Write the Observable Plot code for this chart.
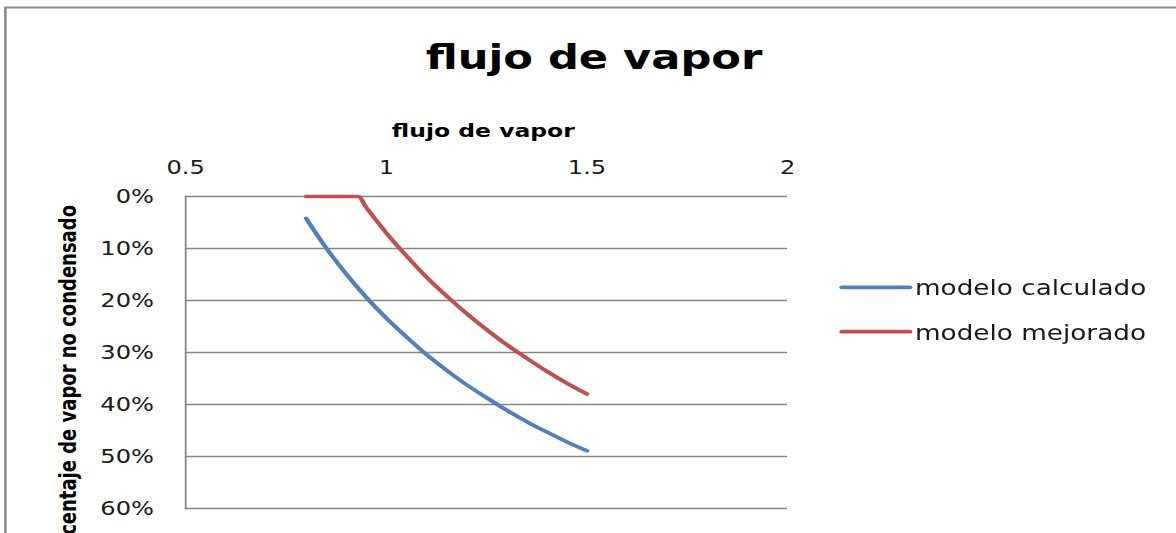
<!DOCTYPE html>
<html>
<head>
<meta charset="utf-8">
<script src="https://cdn.jsdelivr.net/npm/d3@7"></script>
<script src="https://cdn.jsdelivr.net/npm/@observablehq/plot@0.6"></script>
<style>
  html, body { margin: 0; padding: 0; background: #ffffff; overflow: hidden; }
  #wrap { position: relative; width: 926px; height: 533px; transform: scaleX(1.26998); transform-origin: 0 0; }
</style>
</head>
<body>
<div id="wrap"></div>
<script>
// ---- data ----
const chartTitle = "flujo de vapor";
const xAxisTitle = "flujo de vapor";
const yAxisTitle = "porcentaje de vapor no condensado";
const seriesNames = ["modelo calculado", "modelo mejorado"];
const seriesColors = ["#4F81BD", "#C0504D"];

const xTicks = [0.5, 1, 1.5, 2];
const xTickLabels = ["0.5", "1", "1.5", "2"];
const yTicks = [0, 0.1, 0.2, 0.3, 0.4, 0.5, 0.6];
const yTickLabels = ["0%", "10%", "20%", "30%", "40%", "50%", "60%"];

// modelo calculado
const calcX = [0.80, 0.85, 0.90, 0.95, 1.00, 1.05, 1.10, 1.15, 1.20, 1.25, 1.30, 1.35, 1.40, 1.45, 1.50];
const calcY = [0.042, 0.099, 0.149, 0.194, 0.234, 0.270, 0.304, 0.334, 0.362, 0.387, 0.411, 0.433, 0.453, 0.472, 0.489];
// modelo mejorado
const mejX = [0.80, 0.85, 0.90, 0.93, 0.95, 1.00, 1.05, 1.10, 1.15, 1.20, 1.25, 1.30, 1.35, 1.40, 1.45, 1.50];
const mejY = [0.000, 0.000, 0.000, 0.000, 0.021, 0.070, 0.114, 0.155, 0.191, 0.225, 0.256, 0.285, 0.311, 0.336, 0.359, 0.380];

const data = [
  ...calcX.map((x, i) => ({x, y: calcY[i], serie: seriesNames[0]})),
  ...mejX.map((x, i) => ({x, y: mejY[i], serie: seriesNames[1]}))
];

const W = 926, H = 533;
const gridColor = "#868686";
const textColor = "#1a1a1a";

const svg = Plot.plot({
  width: W,
  height: H,
  marginLeft: 145.7,
  marginRight: W - 619.7,
  marginTop: 196,
  marginBottom: 25,
  style: {fontFamily: "DejaVu Sans", fontSize: "19px", color: textColor, background: "transparent", overflow: "visible"},
  x: {domain: [0.5, 2]},
  y: {domain: [0, 0.6], reverse: true},
  color: {domain: seriesNames, range: seriesColors},
  marks: [
    Plot.gridY(yTicks, {stroke: gridColor, strokeOpacity: 1, strokeWidth: 1.4}),
    Plot.frame({anchor: "left", stroke: gridColor, strokeWidth: 1.4}),
    Plot.axisX({anchor: "top", ticks: xTicks, tickSize: 0, tickPadding: 23,
      tickFormat: d => xTickLabels[xTicks.indexOf(d)], label: null, fill: textColor}),
    Plot.axisY({anchor: "left", ticks: yTicks, tickSize: 0, tickPadding: 25,
      tickFormat: d => yTickLabels[yTicks.indexOf(d)], label: null, fill: textColor}),
    Plot.line(data, {x: "x", y: "y", z: "serie", stroke: "serie", strokeWidth: 3.6,
      curve: "monotone-x", strokeLinecap: "round", strokeLinejoin: "round"})
  ]
});

const s = d3.select(svg);
// outer frame of the chart area (cropped at right and bottom)
s.insert("rect", ":first-child")
  .attr("x", 4.2).attr("y", 7.5).attr("width", 1000).attr("height", 700)
  .attr("fill", "white").attr("stroke", "#8a8a8a").attr("stroke-width", 2);

s.append("text").text(chartTitle)
  .attr("x", 467.7).attr("y", 69.3).attr("text-anchor", "middle")
  .attr("font-family", "DejaVu Sans").attr("font-weight", "bold").attr("font-size", 34).attr("fill", "#000");

s.append("text").text(xAxisTitle)
  .attr("x", 380.6).attr("y", 137.5).attr("text-anchor", "middle")
  .attr("font-family", "DejaVu Sans").attr("font-weight", "bold").attr("font-size", 18.5).attr("fill", "#000");

s.append("text").text(yAxisTitle)
  .attr("transform", "translate(59.5,205) rotate(-90)").attr("text-anchor", "end")
  .attr("font-family", "DejaVu Sans").attr("font-weight", "bold").attr("font-size", 18).attr("fill", "#000");

// legend
const legY = [287.3, 331.7];
const legBase = [295, 339.8];
seriesNames.forEach((name, i) => {
  s.append("line").attr("x1", 662.8).attr("x2", 716.5).attr("y1", legY[i]).attr("y2", legY[i])
    .attr("stroke", seriesColors[i]).attr("stroke-width", 3.8).attr("stroke-linecap", "round");
  s.append("text").text(name).attr("x", 720.5).attr("y", legBase[i]).attr("text-anchor", "start")
    .attr("font-family", "DejaVu Sans").attr("font-size", 20.7).attr("fill", textColor);
});

document.getElementById("wrap").appendChild(svg);
</script>
</body>
</html>
